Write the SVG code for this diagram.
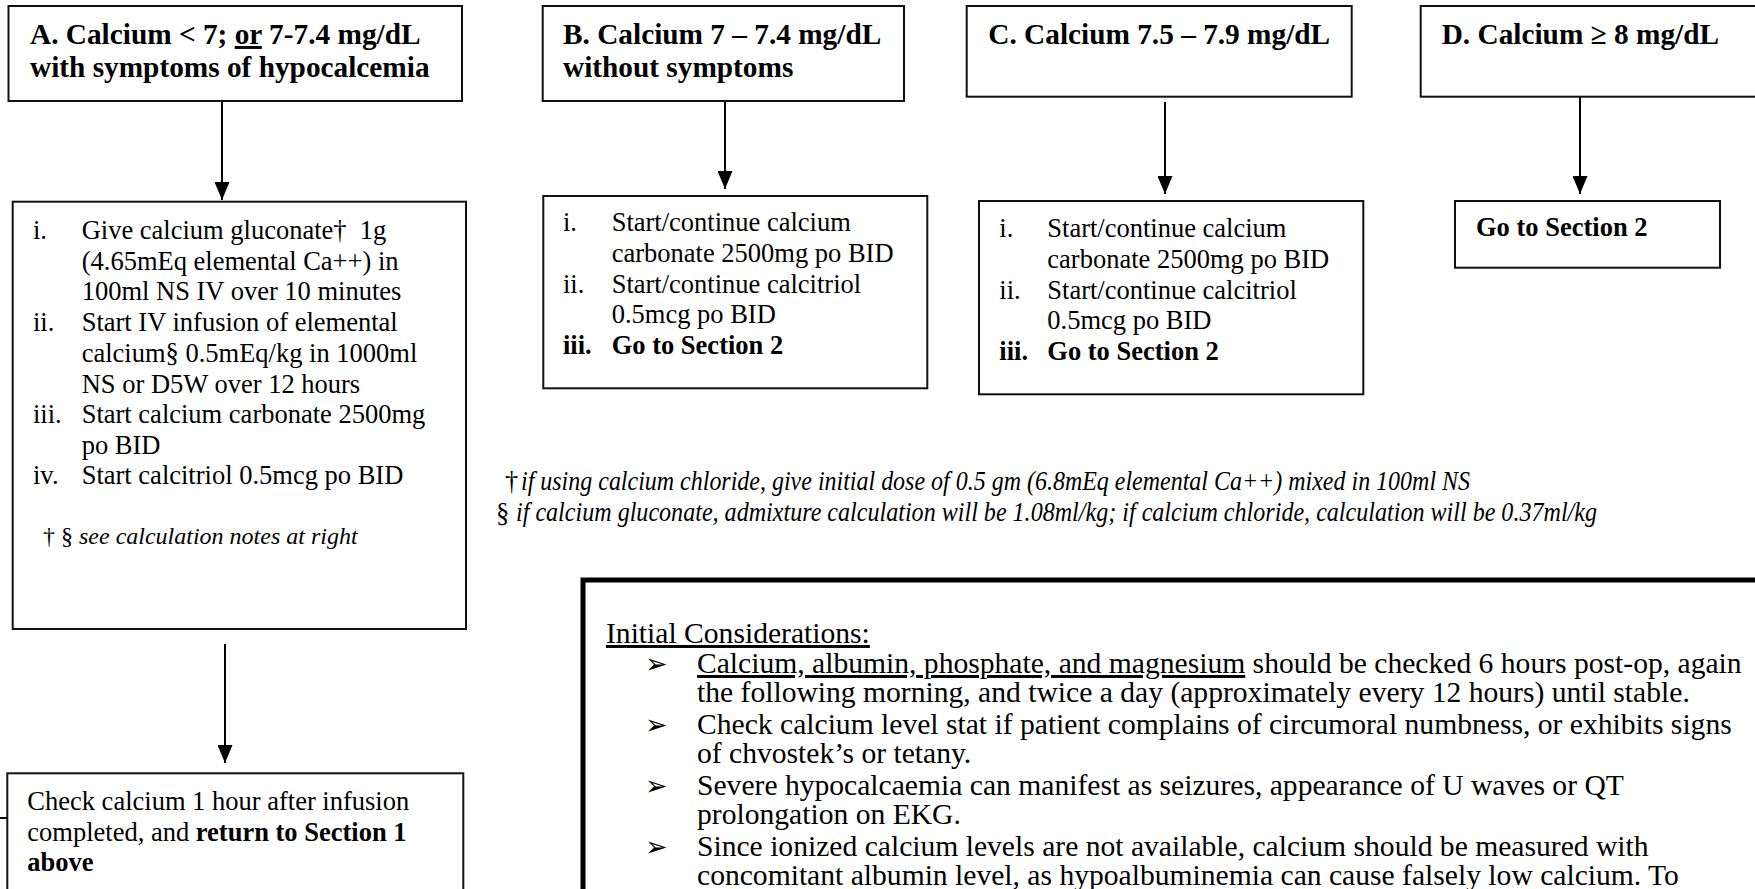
<svg xmlns="http://www.w3.org/2000/svg" width="1755" height="889" viewBox="0 0 1755 889">
<style>
.box{fill:#fff;stroke:#111;stroke-width:2}
.big{fill:none;stroke:#000;stroke-width:5}
.t{font-family:"Liberation Serif","Times New Roman",serif;font-size:26.5px;fill:#000}
.h{font-weight:bold;font-size:29.3px}
.b{font-weight:bold}
.n{font-size:24px}
.it{font-style:italic}
.fn{font-size:27px;font-style:italic}
.k{font-size:29.6px}
.u{text-decoration:underline}
.c{stroke:#000;stroke-width:2;fill:none}
.bul{font-family:"DejaVu Sans",sans-serif;font-size:27px;fill:#000}
</style>
<defs>
<marker id="ah" markerUnits="userSpaceOnUse" markerWidth="18" markerHeight="15" refX="18" refY="7.5" orient="auto">
<path d="M0,0 L18,7.5 L0,15 z" fill="#000"/>
</marker>
</defs>

<g id="connectors">
<line class="c" x1="222" y1="101" x2="222" y2="200" marker-end="url(#ah)"/>
<line class="c" x1="225" y1="644" x2="225" y2="763" marker-end="url(#ah)"/>
<line class="c" x1="725" y1="101" x2="725" y2="189" marker-end="url(#ah)"/>
<line class="c" x1="1165" y1="102" x2="1165" y2="194" marker-end="url(#ah)"/>
<line class="c" x1="1580" y1="97" x2="1580" y2="194" marker-end="url(#ah)"/>
<line class="c" x1="0" y1="818" x2="7" y2="818"/>
</g>

<g id="nodeA">
<rect class="box" x="8.5" y="6" width="453.5" height="95"/>
<text class="t h" x="30" y="44">A. Calcium &lt; 7; <tspan class="u">or</tspan> 7-7.4 mg/dL</text>
<text class="t h" x="30" y="77">with symptoms of hypocalcemia</text>
</g>

<g id="nodeA1">
<rect class="box" x="12.7" y="201.7" width="453.3" height="427.3"/>
<text class="t" x="33" y="239">i.</text>
<text class="t" x="81.7" y="239" xml:space="preserve">Give calcium gluconate†  1g</text>
<text class="t" x="81.7" y="270">(4.65mEq elemental Ca++) in</text>
<text class="t" x="81.7" y="300">100ml NS IV over 10 minutes</text>
<text class="t" x="33" y="331">ii.</text>
<text class="t" x="81.7" y="331">Start IV infusion of elemental</text>
<text class="t" x="81.7" y="362">calcium§ 0.5mEq/kg in 1000ml</text>
<text class="t" x="81.7" y="393">NS or D5W over 12 hours</text>
<text class="t" x="33" y="423">iii.</text>
<text class="t" x="81.7" y="423">Start calcium carbonate 2500mg</text>
<text class="t" x="81.7" y="454">po BID</text>
<text class="t" x="33" y="484">iv.</text>
<text class="t" x="81.7" y="484">Start calcitriol 0.5mcg po BID</text>
<text class="t n" x="43" y="544">† § <tspan class="it">see calculation notes at right</tspan></text>
</g>

<g id="nodeA2">
<rect class="box" x="7.3" y="773.3" width="456" height="130"/>
<text class="t" x="27.3" y="809.5">Check calcium 1 hour after infusion</text>
<text class="t" x="27.3" y="840.5">completed, and <tspan class="b">return to Section 1</tspan></text>
<text class="t b" x="27.3" y="870.5">above</text>
</g>

<g id="nodeB">
<rect class="box" x="542.7" y="6" width="361.3" height="95"/>
<text class="t h" x="563" y="44">B. Calcium 7 – 7.4 mg/dL</text>
<text class="t h" x="563" y="77">without symptoms</text>
</g>

<g id="nodeB1">
<rect class="box" x="543.3" y="196" width="384" height="192.3"/>
<text class="t" x="563" y="231">i.</text>
<text class="t" x="611.7" y="231">Start/continue calcium</text>
<text class="t" x="611.7" y="262">carbonate 2500mg po BID</text>
<text class="t" x="563" y="293">ii.</text>
<text class="t" x="611.7" y="293">Start/continue calcitriol</text>
<text class="t" x="611.7" y="323">0.5mcg po BID</text>
<text class="t b" x="563" y="354">iii.</text>
<text class="t b" x="611.7" y="354">Go to Section 2</text>
</g>

<g id="nodeC">
<rect class="box" x="966.7" y="6" width="385" height="90.7"/>
<text class="t h" x="988.3" y="44">C. Calcium 7.5 – 7.9 mg/dL</text>
</g>

<g id="nodeC1">
<rect class="box" x="979" y="201" width="384.3" height="193.3"/>
<text class="t" x="999.3" y="237">i.</text>
<text class="t" x="1047.3" y="237">Start/continue calcium</text>
<text class="t" x="1047.3" y="268">carbonate 2500mg po BID</text>
<text class="t" x="999.3" y="299">ii.</text>
<text class="t" x="1047.3" y="299">Start/continue calcitriol</text>
<text class="t" x="1047.3" y="329">0.5mcg po BID</text>
<text class="t b" x="999.3" y="360">iii.</text>
<text class="t b" x="1047.3" y="360">Go to Section 2</text>
</g>

<g id="nodeD">
<rect class="box" x="1420.7" y="6" width="350" height="90.7"/>
<text class="t h" x="1441.7" y="44">D. Calcium ≥ 8 mg/dL</text>
</g>

<g id="nodeD1">
<rect class="box" x="1455" y="201" width="265" height="66.7"/>
<text class="t b" x="1476" y="236">Go to Section 2</text>
</g>

<g id="footnotes">
<text class="t" x="505" y="490" font-size="24">†</text>
<text class="t fn" x="521" y="490" textLength="949" lengthAdjust="spacingAndGlyphs">if using calcium chloride, give initial dose of 0.5 gm (6.8mEq elemental Ca++) mixed in 100ml NS</text>
<text class="t" x="496" y="522" font-size="32">§</text>
<text class="t fn" x="516" y="521" textLength="1081" lengthAdjust="spacingAndGlyphs">if calcium gluconate, admixture calculation will be 1.08ml/kg; if calcium chloride, calculation will be 0.37ml/kg</text>
</g>

<g id="considerations">
<rect class="big" x="583" y="580" width="1200" height="340"/>
<text class="t k u" x="606" y="643">Initial Considerations:</text>
<text class="bul" x="645" y="673">➢</text>
<text class="t k" x="697" y="673"><tspan class="u">Calcium, albumin, phosphate, and magnesium</tspan> should be checked 6 hours post-op, again</text>
<text class="t k" x="697" y="702">the following morning, and twice a day (approximately every 12 hours) until stable.</text>
<text class="bul" x="645" y="734">➢</text>
<text class="t k" x="697" y="734">Check calcium level stat if patient complains of circumoral numbness, or exhibits signs</text>
<text class="t k" x="697" y="763">of chvostek’s or tetany.</text>
<text class="bul" x="645" y="795">➢</text>
<text class="t k" x="697" y="795">Severe hypocalcaemia can manifest as seizures, appearance of U waves or QT</text>
<text class="t k" x="697" y="824">prolongation on EKG.</text>
<text class="bul" x="645" y="856">➢</text>
<text class="t k" x="697" y="856">Since ionized calcium levels are not available, calcium should be measured with</text>
<text class="t k" x="697" y="885">concomitant albumin level, as hypoalbuminemia can cause falsely low calcium. To</text>
</g>
</svg>
